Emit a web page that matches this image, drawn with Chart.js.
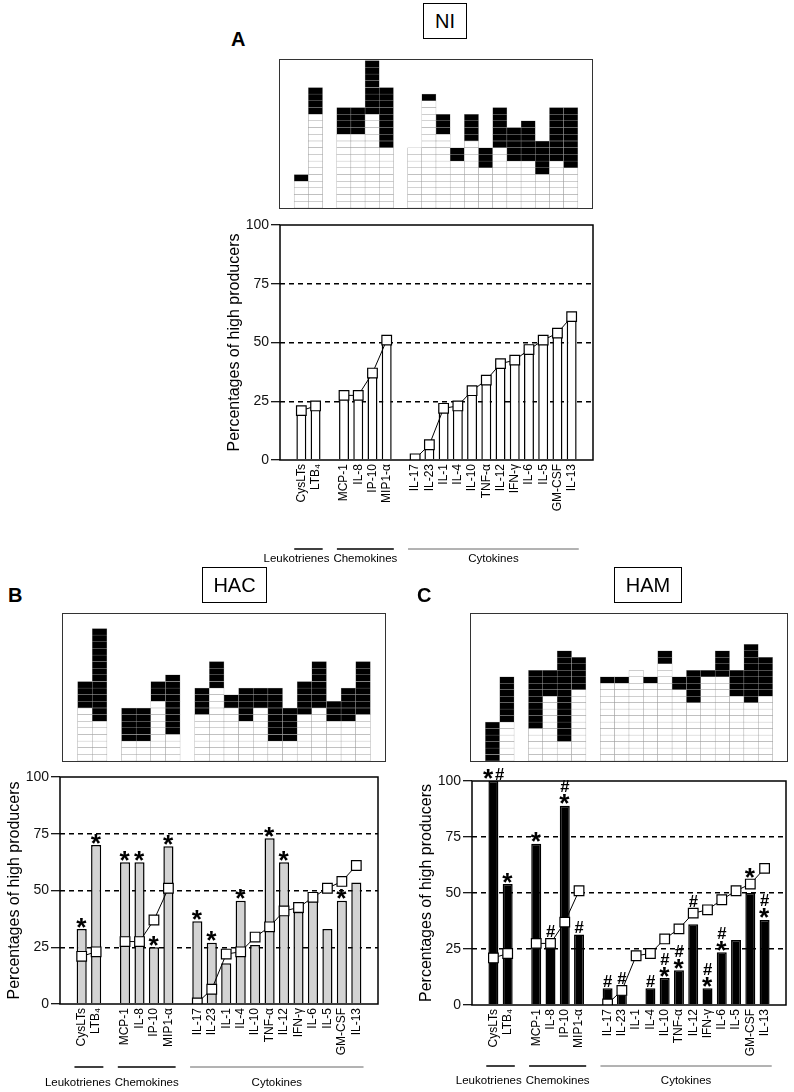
<!DOCTYPE html>
<html>
<head>
<meta charset="utf-8">
<script src="https://cdn.jsdelivr.net/npm/chart.js@4.4.0/dist/chart.umd.min.js"></script>
<style>
  body { margin: 0; background: #fff; font-family: 'Liberation Sans', Arial, sans-serif; }
  #page { position: relative; width: 794px; height: 1092px; overflow: hidden; }
  .abs { position: absolute; }
  .letter { font-weight: bold; font-size: 20px; line-height: 20px; }
  .tag { border: 1px solid #000; font-size: 20px; display: flex; align-items: center; justify-content: center; box-sizing: border-box; }
  .gridbox { border: 1px solid #333; box-sizing: border-box; }
  .gridbox canvas { display: block; }
</style>
</head>
<body>
<div id="page">
  <div class="abs letter" style="left:231px; top:29px;">A</div>
  <div class="abs tag" style="left:423px; top:3px; width:44px; height:36px;">NI</div>
  <div class="abs gridbox" style="left:279px; top:59px; width:314px; height:150px;"><canvas id="gridA" width="312" height="148"></canvas></div>
  <canvas id="barsA" class="abs" style="left:218px; top:201px;" width="383" height="369"></canvas>

  <div class="abs letter" style="left:8px; top:585px;">B</div>
  <div class="abs tag" style="left:202px; top:567px; width:65px; height:36px;">HAC</div>
  <div class="abs gridbox" style="left:62px; top:613px; width:324px; height:149px;"><canvas id="gridB" width="322" height="147"></canvas></div>
  <canvas id="barsB" class="abs" style="left:-2px; top:753px;" width="388" height="361"></canvas>

  <div class="abs letter" style="left:417px; top:585px;">C</div>
  <div class="abs tag" style="left:614px; top:567px; width:68px; height:36px;">HAM</div>
  <div class="abs gridbox" style="left:470px; top:613px; width:318px; height:149px;"><canvas id="gridC" width="316" height="147"></canvas></div>
  <canvas id="barsC" class="abs" style="left:410px; top:757px;" width="384" height="358"></canvas>
</div>

<script>
// categories, in display order
const leukotrienes = ['CysLTs', 'LTB₄'];
const chemokines = ['MCP-1', 'IL-8', 'IP-10', 'MIP1-α'];
const cytokines = ['IL-17', 'IL-23', 'IL-1', 'IL-4', 'IL-10', 'TNF-α', 'IL-12', 'IFN-γ', 'IL-6', 'IL-5', 'GM-CSF', 'IL-13'];
const groupNames = ['Leukotrienes', 'Chemokines', 'Cytokines'];
const yTicks = [0, 25, 50, 75, 100];

// percentages of high producers
const niValues  = [21, 23, 27.5, 27.5, 37, 51, 0.5, 6.5, 22, 23, 29.5, 34, 41, 42.5, 47, 51, 54, 61];
const hacValues = [33, 70, 62.5, 62.5, 25, 69.5, 36.5, 27, 18, 45.5, 26, 73, 62.5, 40.5, 45.5, 33, 45.5, 53.5];
const hamValues = [100, 54, 72, 27, 89, 31.5, 7.5, 6, 0, 7.5, 12, 15.5, 36, 7.5, 23.5, 29, 50, 38];

// significance marks, rows from bottom to top separated by '/'
const hacMarks = ['*', '*', '*', '*', '*', '*', '*', '*', '', '*', '', '*', '*', '', '', '', '*', ''];
const hamMarks = ['*#', '*', '*', '#', '*/#', '#', '#', '#', '', '#', '*/#', '*/#', '#', '*/#', '*/#', '', '*', '*/#'];

// subject grid: number of white (low) and black (high) cells per column
const niWhite  = [4, 14, 11, 11, 14, 9, 9, 16, 11, 7, 10, 6, 9, 7, 7, 5, 7, 6];
const niBlack  = [1, 4, 4, 4, 8, 9, 0, 1, 3, 2, 4, 3, 6, 5, 6, 5, 8, 9];
const hacWhite = [8, 6, 3, 3, 9, 4, 7, 11, 8, 6, 8, 3, 3, 7, 8, 6, 6, 7];
const hacBlack = [4, 14, 5, 5, 3, 9, 4, 4, 2, 5, 3, 8, 5, 5, 7, 3, 5, 8];
const hamWhite = [0, 6, 5, 10, 3, 11, 12, 12, 14, 12, 15, 11, 9, 13, 13, 10, 9, 10];
const hamBlack = [6, 7, 9, 4, 14, 5, 1, 1, 0, 1, 2, 2, 5, 1, 4, 4, 9, 6];

const FONT = "'Liberation Sans', Arial, sans-serif";
Chart.defaults.font.family = FONT;
Chart.defaults.color = '#000';

// slot labels: blank slot at each end and between groups
const groups = [leukotrienes, chemokines, cytokines];
const slotLabels = [''];
groups.forEach(g => { g.forEach(name => slotLabels.push(name)); slotLabels.push(''); });

function spread(values) {
    const out = [];
    let k = 0;
    slotLabels.forEach(l => out.push(l === '' ? null : values[k++]));
    return out;
}

function glyphSize(ch, targetH) {
    const c = document.createElement('canvas').getContext('2d');
    c.font = 'bold 100px ' + FONT;
    const m = c.measureText(ch);
    return 100 * targetH / (m.actualBoundingBoxAscent + m.actualBoundingBoxDescent);
}
const starSize = glyphSize('*', 10);
const hashSize = glyphSize('#', 11.5);

/**
 * Box around the plot area
 */
const framePlugin = {
    id: 'frame',
    afterDatasetsDraw(chart) {
        const { ctx, chartArea: a } = chart;
        ctx.save();
        ctx.lineWidth = 1.5;
        ctx.strokeStyle = '#000';
        ctx.strokeRect(a.left, a.top, a.right - a.left, a.bottom - a.top);
        ctx.restore();
    }
};

/**
 * Asterisks and hashes above the bars
 */
const marksPlugin = {
    id: 'marks',
    afterDatasetsDraw(chart, args, opts) {
        const marks = opts.list;
        if (!marks) return;
        const ctx = chart.ctx;
        const xs = chart.scales.x, ys = chart.scales.y;
        const line = chart.data.datasets[0].data;
        const bars = chart.data.datasets[1].data;
        ctx.save();
        ctx.fillStyle = '#000';
        ctx.textAlign = 'left';
        ctx.textBaseline = 'alphabetic';
        marks.forEach((m, i) => {
            if (!m) return;
            const bar = bars[i], ln = line[i];
            let bottom = ys.getPixelForValue(bar);
            if (ln !== null && ln >= bar && ln - bar < 7) bottom = ys.getPixelForValue(ln) - 5;
            bottom -= 1.5;
            const cx = xs.getPixelForValue(i);
            m.split('/').forEach(row => {
                const glyphs = row.split('').map(ch => {
                    ctx.font = 'bold ' + (ch === '*' ? starSize : hashSize) + 'px ' + FONT;
                    const mt = ctx.measureText(ch);
                    return {
                        ch, font: ctx.font,
                        w: mt.actualBoundingBoxLeft + mt.actualBoundingBoxRight,
                        left: mt.actualBoundingBoxLeft,
                        asc: mt.actualBoundingBoxAscent,
                        desc: mt.actualBoundingBoxDescent
                    };
                });
                const totalW = glyphs.reduce((s, g) => s + g.w, 0) + (glyphs.length - 1);
                const rowH = Math.max(...glyphs.map(g => g.asc + g.desc));
                let x = cx - totalW / 2;
                glyphs.forEach(g => {
                    const h = g.asc + g.desc;
                    const gBottom = bottom - (rowH - h) / 2;
                    ctx.font = g.font;
                    ctx.fillText(g.ch, x + g.left, gBottom - g.desc);
                    x += g.w + 1;
                });
                bottom -= rowH + 2;
            });
        });
        ctx.restore();
    }
};

/**
 * Group underlines and names below the category labels
 */
const groupPlugin = {
    id: 'groups',
    afterDraw(chart, args, opts) {
        const ctx = chart.ctx;
        const xs = chart.scales.x;
        const bottom = chart.chartArea.bottom;
        const half = (xs.getPixelForValue(1) - xs.getPixelForValue(0)) / 2;
        ctx.save();
        ctx.font = '11.5px ' + FONT;
        let slot = 1;
        const items = groups.map((g, gi) => {
            const left = xs.getPixelForValue(slot) - half;
            const right = xs.getPixelForValue(slot + g.length - 1) + half;
            slot += g.length + 1;
            const w = ctx.measureText(groupNames[gi]).width;
            return { left, right, w, cx: (left + right) / 2 };
        });
        // keep names from overlapping: shift earlier names left
        for (let i = items.length - 2; i >= 0; i--) {
            const maxRight = items[i + 1].cx - items[i + 1].w / 2 - 4;
            if (items[i].cx + items[i].w / 2 > maxRight) items[i].cx = maxRight - items[i].w / 2;
        }
        items.forEach((it, gi) => {
            const last = gi === items.length - 1;
            ctx.beginPath();
            ctx.lineWidth = last ? 1 : 1.5;
            ctx.strokeStyle = last ? '#666' : '#000';
            ctx.moveTo(it.left, bottom + opts.lineOffset);
            ctx.lineTo(it.right, bottom + opts.lineOffset);
            ctx.stroke();
            ctx.fillStyle = '#000';
            ctx.textAlign = 'center';
            ctx.textBaseline = 'middle';
            ctx.fillText(groupNames[gi], it.cx, bottom + opts.textOffset);
        });
        ctx.restore();
    }
};

function drawGrid(id, white, black, yMax) {
    const whiteS = spread(white);
    const blackS = spread(black);
    const totals = whiteS.map((w, i) => w === null ? 0 : w + blackS[i]);
    const levels = Math.max(...totals);
    const datasets = [];
    for (let k = 0; k < levels; k++) {
        datasets.push({
            data: totals.map(t => t > k ? 1 : null),
            backgroundColor: whiteS.map(w => k < w ? '#ffffff' : '#000000'),
            borderColor: '#9c9c9c',
            borderWidth: 0.5,
            borderSkipped: false,
            categoryPercentage: 1,
            barPercentage: 1
        });
    }
    new Chart(document.getElementById(id), {
        type: 'bar',
        data: { labels: slotLabels, datasets: datasets },
        options: {
            responsive: false,
            animation: false,
            devicePixelRatio: 1,
            layout: { padding: 0 },
            plugins: { legend: { display: false }, tooltip: { enabled: false } },
            scales: {
                x: { display: false, stacked: true, offset: true },
                y: { display: false, stacked: true, min: 0, max: yMax }
            }
        }
    });
}

function drawBars(id, values, fill, marks, lineOffset, textOffset) {
    new Chart(document.getElementById(id), {
        type: 'bar',
        data: {
            labels: slotLabels,
            datasets: [{
                type: 'line',
                data: spread(niValues),
                borderColor: '#000',
                borderWidth: 1,
                pointStyle: 'rect',
                pointRadius: 6.8,
                pointBackgroundColor: '#fff',
                pointBorderColor: '#000',
                pointBorderWidth: 1.2,
                spanGaps: false,
                order: 1
            }, {
                type: 'bar',
                data: spread(values),
                backgroundColor: fill,
                borderColor: '#000',
                borderWidth: 1.5,
                categoryPercentage: 1,
                barPercentage: 0.7,
                order: 2
            }]
        },
        options: {
            responsive: false,
            animation: false,
            devicePixelRatio: 1,
            layout: { padding: { top: 24, right: 4, bottom: 30, left: 0 } },
            plugins: {
                legend: { display: false },
                tooltip: { enabled: false },
                marks: { list: marks ? spread(marks) : null },
                groups: { lineOffset: lineOffset, textOffset: textOffset }
            },
            scales: {
                x: {
                    offset: true,
                    grid: { display: false, drawTicks: false },
                    border: { display: false },
                    ticks: {
                        autoSkip: false,
                        minRotation: 90,
                        maxRotation: 90,
                        padding: 4,
                        color: '#000',
                        font: { size: 12 },
                        callback: function(v) {
                            const l = this.getLabelForValue(v);
                            return l === '' ? null : l;
                        }
                    },
                    afterFit: s => { s.height = 80; }
                },
                y: {
                    min: 0,
                    max: 100,
                    afterBuildTicks: s => { s.ticks = yTicks.map(v => ({ value: v })); },
                    grid: {
                        color: c => (c.tick && c.tick.value > 0 && c.tick.value < 100) ? '#000' : 'rgba(0,0,0,0)',
                        lineWidth: 1.4,
                        tickColor: '#000',
                        tickLength: 9,
                        tickWidth: 1.2
                    },
                    border: { display: false, dash: [5, 4] },
                    ticks: { color: '#111', font: { size: 14 }, padding: 2 },
                    title: {
                        display: true,
                        text: 'Percentages of high producers',
                        color: '#000',
                        font: { size: 16 },
                        padding: { top: 7, bottom: 0 }
                    },
                    afterFit: s => { s.width = 62; }
                }
            }
        },
        plugins: [framePlugin, marksPlugin, groupPlugin]
    });
}

document.addEventListener('DOMContentLoaded', function() {
    drawGrid('gridA', niWhite, niBlack, 22.1);
    drawGrid('gridB', hacWhite, hacBlack, 22.2);
    drawGrid('gridC', hamWhite, hamBlack, 22.7);

    drawBars('barsA', niValues, '#ffffff', null, 89, 99);
    drawBars('barsB', hacValues, '#d3d3d3', hacMarks, 63, 79);
    drawBars('barsC', hamValues, '#000000', hamMarks, 61, 76);
});
</script>
</body>
</html>
